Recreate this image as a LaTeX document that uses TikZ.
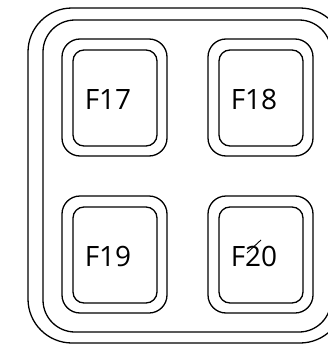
\documentclass[tikz,border=0pt]{standalone}
\usepackage{fontspec}
\setmainfont{Open Sans}
\begin{document}
\begin{tikzpicture}[x=1pt,y=-1pt,line width=1.3pt]
        \useasboundingbox (0,0) rectangle (328,348);
        \draw [rounded corners=44pt] (28,8) rectangle (344,343);
        \draw [rounded corners=32pt] (43,20) rectangle (331,332);
        \foreach \x/\y/\t in {62/39/17, 208/39/18, 62/196/19, 208/196/20} {
            \draw [rounded corners=18pt] (\x,\y) rectangle ++(105,117);
            \draw [rounded corners=11pt] (\x+11,\y+11) rectangle ++(84,96);
            \node [font=\fontsize{28}{28}\selectfont, anchor=base, inner sep=0pt] (f\t) at (\x+46,\y+70) {F\t};
        }
        \draw [line width=0.9pt] (247,253) -- (261,240);
    \end{tikzpicture}
\end{document}
